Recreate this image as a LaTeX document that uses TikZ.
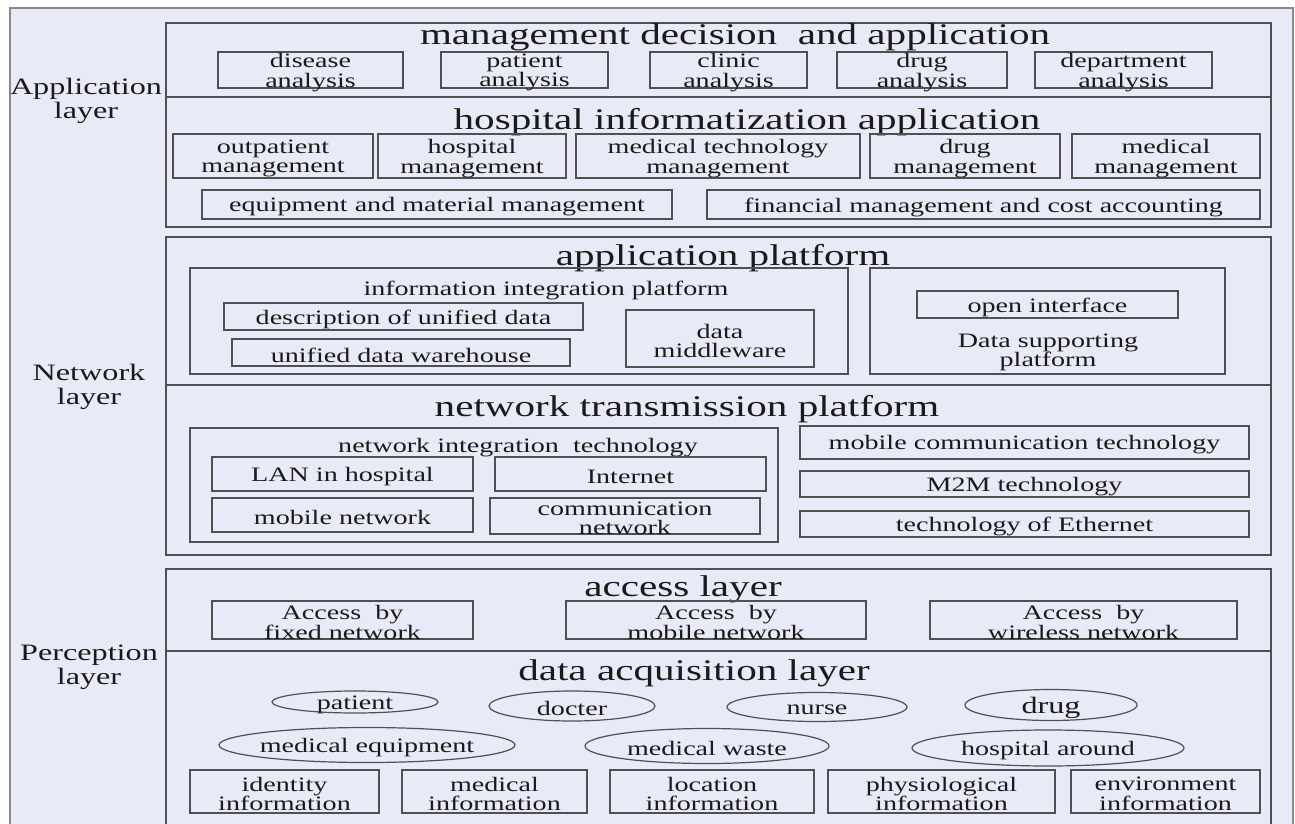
\documentclass[tikz,border=0pt]{standalone}
\usepackage{fontspec}
\setmainfont{Liberation Serif}[FakeStretch=1.37]

\definecolor{panel}{HTML}{E8EBF7}
\definecolor{edge}{HTML}{505050}
\definecolor{rim}{HTML}{8A8A8A}
\definecolor{ink}{HTML}{1A1A1A}

\tikzset{
  boxline/.style={draw=edge, line width=1.3pt},
  frame/.style={draw=rim, line width=2pt, fill=panel},
  lbl/.style={inner sep=0pt, align=center, text=ink, yshift=-2.5pt,
    font=\fontsize{20.5}{19.5}\selectfont},
  bigger/.style={font=\fontsize{23.5}{24}\selectfont},
  ttl/.style={inner sep=0pt, anchor=base, text=ink, yshift=-2pt,
    font=\fontsize{30}{32}\selectfont},
  side/.style={inner sep=0pt, align=center, text=ink, yshift=-2pt,
    font=\fontsize{23.5}{24.5}\selectfont},
  oval/.style={draw=edge, line width=1.2pt},
}

% framed box with centred text: name, x1, y1, x2, y2, text
\newcommand{\ibox}[6]{%
  \draw[boxline] (#2,#3) rectangle (#4,#5);
  \node[lbl] (#1) at ({(#2+#4)/2},{(#3+#5)/2}) {#6};}
% oval with centred text: name, cx, cy, rx, ry, text
\newcommand{\ioval}[6]{%
  \draw[oval] (#2,#3) ellipse [x radius=#4, y radius=#5];
  \node[lbl] (#1) at (#2,#3) {#6};}

\begin{document}
\begin{tikzpicture}[x=1pt, y=-1pt]
  \clip (0,0) rectangle (1295,824);
  \fill[white] (0,0) rectangle (1295,824);
  \draw[frame] (10,8) rectangle (1293,850);

  % layer names
  \node[side] (lapp) at (86,99) {Application\\layer};
  \node[side] (lnet) at (89,385) {Network\\layer};
  \node[side] (lper) at (89,665) {Perception\\layer};

  % ---------- application layer ----------
  \draw[boxline] (166,23) rectangle (1271,227);
  \draw[boxline] (166,97) -- (1271,97);
  \node[ttl, yshift=2pt] (tmd) at (735,45) {management decision\ \ and application};
  \ibox{disease}{218}{52}{403}{88}{disease\\analysis}
  \ibox{patient}{441}{52}{608}{88}{patient\\analysis}
  \ibox{clinic}{650}{52}{807}{88}{clinic\\analysis}
  \ibox{druga}{837}{52}{1007}{88}{drug\\analysis}
  \ibox{dept}{1035}{52}{1212}{88}{department\\analysis}

  \node[ttl] (thi) at (747,128) {hospital informatization application};
  \ibox{outp}{173}{134}{373}{178}{outpatient\\management}
  \ibox{hosp}{378}{134}{566}{178}{hospital\\management}
  \ibox{medtech}{576}{134}{860}{178}{medical technology\\management}
  \ibox{drugm}{870}{134}{1060}{178}{drug\\management}
  \ibox{medm}{1072}{134}{1260}{178}{medical\\management}
  \ibox{equip}{202}{190}{672}{219}{equipment and material management}
  \ibox{fin}{707}{190}{1260}{219}{financial management and cost accounting}

  % ---------- network layer ----------
  \draw[boxline] (166,237) rectangle (1271,555);
  \draw[boxline] (166,385) -- (1271,385);
  \node[ttl] (tap) at (723,263) {application platform};

  \draw[boxline] (190,268) rectangle (848,374);
  \node[lbl, anchor=base] (iip) at (546,293) {information integration platform};
  \ibox{desc}{224}{303}{583}{330}{description of unified data}
  \ibox{ware}{232}{339}{570}{366}{unified data warehouse}
  \ibox{midw}{626}{310}{814}{367}{data\\middleware}

  \draw[boxline] (870,268) rectangle (1225,374);
  \ibox{openi}{917}{291}{1178}{318}{open interface}
  \node[lbl] (dsp) at (1048,350) {Data supporting\\platform};

  \node[ttl] (tnt) at (687,414) {network transmission platform};
  \draw[boxline] (190,428) rectangle (778,542);
  \node[lbl, anchor=base] (nit) at (518,450) {network integration\ \ technology};
  \ibox{lan}{212}{457}{473}{491}{LAN in hospital}
  \ibox{inet}{495}{457}{766}{491}{Internet}
  \ibox{mobn}{212}{498}{473}{532}{mobile network}
  \ibox{comm}{490}{498}{760}{534}{communication\\network}
  \ibox{mct}{800}{426}{1249}{459}{mobile communication technology}
  \ibox{m2m}{800}{471}{1249}{497}{M2M technology}
  \ibox{eth}{800}{511}{1249}{537}{technology of Ethernet}

  % ---------- perception layer ----------
  \draw[boxline] (166,569) rectangle (1271,850);
  \draw[boxline] (166,651) -- (1271,651);
  \node[ttl] (tal) at (683,594) {access layer};
  \ibox{afix}{212}{601}{473}{639}{Access\ \ by\\fixed network}
  \ibox{amob}{566}{601}{866}{639}{Access\ \ by\\mobile network}
  \ibox{awir}{930}{601}{1237}{639}{Access\ \ by\\wireless network}

  \node[ttl] (tda) at (694,678) {data acquisition layer};
  \ioval{opat}{355}{702}{83}{11}{patient}
  \ioval{odoc}{572}{706}{83}{15}{docter}
  \ioval{onur}{817}{707}{90}{14.5}{nurse}
  \draw[oval] (1051,705) ellipse [x radius=86, y radius=15.5];
  \node[lbl, bigger] (odrug) at (1051,705) {drug};
  \ioval{oequ}{367}{745}{148}{17.5}{medical equipment}
  \ioval{owas}{707}{746}{122}{17.5}{medical waste}
  \ioval{oaro}{1048}{748}{136}{18}{hospital around}

  \ibox{iid}{190}{770}{379}{813}{identity\\information}
  \ibox{imed}{402}{770}{587}{813}{medical\\information}
  \ibox{iloc}{610}{770}{814}{813}{location\\information}
  \ibox{iphy}{828}{770}{1055}{813}{physiological\\information}
  \ibox{ienv}{1071}{770}{1260}{813}{environment\\information}
\end{tikzpicture}
\end{document}
